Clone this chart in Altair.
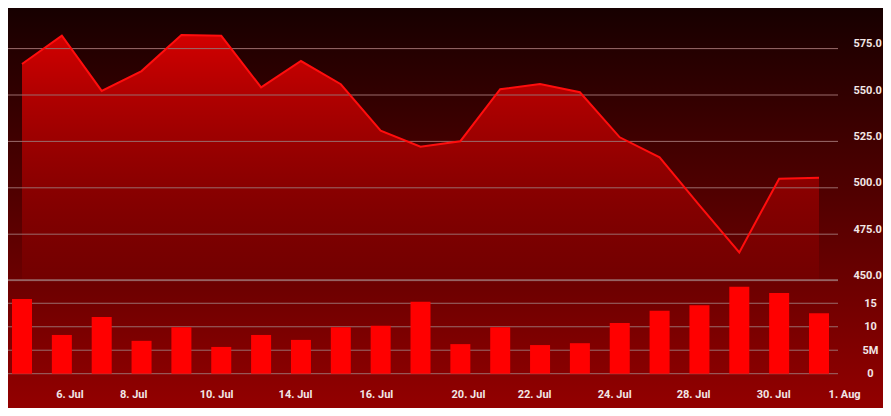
import altair as alt
import pandas as pd

# ---- data ----
prices = [566.7, 582.0, 552.2, 562.9, 582.3, 581.9, 554.1, 568.3, 555.8, 530.8, 522.1,
          525.1, 553.1, 555.9, 551.5, 527.2, 516.4, 490.5, 465.2, 504.9, 505.4]
volumes = [15.9, 8.25, 12.1, 7.0, 9.9, 5.7, 8.25, 7.2, 9.9, 10.2, 15.3,
           6.3, 9.9, 6.1, 6.5, 10.8, 13.4, 14.6, 18.5, 17.2, 12.9]
tick_pos = [1.19, 2.79, 4.87, 6.85, 8.88, 11.19, 12.85, 14.86, 16.84, 18.85, 20.63]
tick_labels = ["6. Jul", "8. Jul", "10. Jul", "14. Jul", "16. Jul", "20. Jul",
               "22. Jul", "24. Jul", "28. Jul", "30. Jul", "1. Aug"]
price_ticks = [450, 475, 500, 525, 550, 575]
volume_ticks = [0, 5, 10, 15, 20]

df = pd.DataFrame({"idx": list(range(len(prices))), "price": prices, "volume": volumes})

W, H = 830, 366
FONT = "Roboto"
LABEL_COLOR = "#f2e6e6"
GRID_COLOR = "#9a6b6b"

x_scale = alt.Scale(domain=[0, 20.8], range=[14, 14 + 39.85 * 20.8], nice=False, zero=False, padding=0)
price_scale = alt.Scale(domain=[450, 600], range=[272.6, -5.8], nice=False, zero=False)
vol_scale = alt.Scale(domain=[0, 20], range=[365.7, 271.8], nice=False)

labels_js = "[" + ",".join("'%s'" % t for t in tick_labels) + "]"
pos_js = "[" + ",".join(str(p) for p in tick_pos) + "]"

common = dict(grid=False, ticks=False, domain=False, title=None, zindex=1,
              labelFont=FONT, labelFontSize=11, labelFontWeight="bold",
              labelColor=LABEL_COLOR, labelOverlap=False, labelFlush=False)

x_axis = alt.Axis(values=tick_pos, labelExpr=f"{labels_js}[indexof({pos_js}, datum.value)]",
                  labelPadding=14, labelBound=False, labelAngle=0, **common)

bg = alt.Chart(pd.DataFrame({"a": [0]})).mark_rect(
    fill=alt.Gradient(gradient="linear",
                      stops=[alt.GradientStop(color="#170000", offset=0),
                             alt.GradientStop(color="#930000", offset=1)],
                      x1=0, x2=0, y1=0, y2=1)
).encode(x=alt.value(0), x2=alt.value(875), y=alt.value(0), y2=alt.value(400))

base = alt.Chart(df)

area = base.mark_area(
    fill=alt.Gradient(gradient="linear",
                      stops=[alt.GradientStop(color="rgba(255,0,0,0.8)", offset=0),
                             alt.GradientStop(color="rgba(255,0,0,0.05)", offset=1)],
                      x1=0, x2=0, y1=0, y2=1)
).encode(
    x=alt.X("idx:Q", scale=x_scale, axis=x_axis),
    y=alt.Y("price:Q", scale=price_scale,
            axis=alt.Axis(orient="right", values=price_ticks, format=".1f",
                          labelPadding=15, labelAlign="left",
                          labelBaseline="alphabetic", labelOffset=-2, **common)),
    y2=alt.datum(450),
)

price_grid = alt.Chart(pd.DataFrame({"v": price_ticks})).mark_rule(
    color=GRID_COLOR, strokeWidth=1
).encode(y=alt.Y("v:Q", scale=price_scale))

line = base.mark_line(color="#ff0d0d", strokeWidth=2).encode(
    x=alt.X("idx:Q", scale=x_scale),
    y=alt.Y("price:Q", scale=price_scale),
)

vol_grid = alt.Chart(pd.DataFrame({"v": volume_ticks})).mark_rule(
    color=GRID_COLOR, strokeWidth=1
).encode(y=alt.Y("v:Q", scale=vol_scale))

bars = base.mark_bar(color="#ff0000", size=20).encode(
    x=alt.X("idx:Q", scale=x_scale),
    y=alt.Y("volume:Q", scale=vol_scale,
            axis=alt.Axis(orient="right", values=volume_ticks,
                          labelExpr="datum.value == 20 ? '' : (datum.value == 5 ? '5M' : datum.label)",
                          labelPadding=32, labelAlign="center", labelBaseline="middle",
                          **common)),
)

chart = alt.layer(
    bg,
    alt.layer(area, price_grid, line),
    alt.layer(vol_grid, bars),
).resolve_scale(y="independent").properties(
    width=W, height=H,
    autosize=alt.AutoSizeParams(type="none"),
    padding={"left": 0, "top": 0, "right": 45, "bottom": 34},
    background="#170000",
).configure_view(stroke=None)

chart.save("out.html", embed_options={"renderer": "svg", "actions": False})
